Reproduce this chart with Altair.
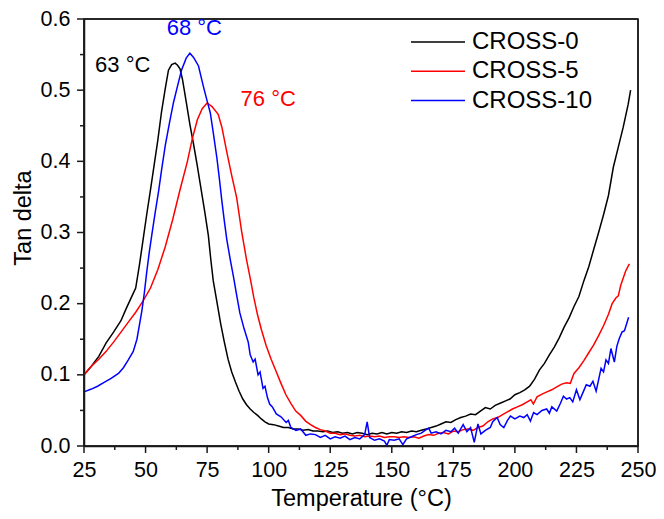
import altair as alt
import pandas as pd

SERIES = ["CROSS-0", "CROSS-5", "CROSS-10"]
COLORS = ["#000000", "#ff0000", "#0000ff"]

# CROSS-0 (black)
T0 = [25, 28, 31, 34, 37, 40, 42, 44, 46, 47.5, 49, 50.5, 52, 53.5, 55, 56.5, 58, 59.3, 60.6, 62, 63, 64, 65,
      66.5, 68, 69.5, 71, 72.5, 74, 75.5, 76.5, 77.5, 79, 80.5, 82, 83.5, 85, 86.5, 88, 89.5, 91, 92.5, 94, 95.5,
      97, 98.5, 100, 102, 104, 106, 108, 110, 112, 114, 116, 118, 120, 122, 124, 126, 128, 130, 132, 134, 136,
      138, 140, 142, 144, 146, 148, 150, 152, 154, 156, 158, 160, 162, 164, 166, 168, 170, 172, 174, 176, 178,
      180, 182, 184, 186, 188, 190, 192, 194, 196, 198, 200, 202, 204, 206, 208, 210, 212, 214, 216, 218, 220,
      222, 224, 226, 228, 230, 232, 234, 236, 238, 240, 242, 244, 246, 247]
Y0 = [.100, .112, .126, .145, .160, .176, .192, .207, .222, .254, .290, .326, .360, .395, .430, .470, .502, .528,
      .536, .538, .535, .530, .515, .484, .452, .424, .394, .362, .330, .296, .262, .232, .202, .172, .146, .122,
      .104, .090, .077, .066, .058, .052, .047, .043, .038, .034, .031, .030, .028, .026, .026, .024, .024, .022,
      .023, .021, .021, .020, .021, .019, .020, .018, .019, .017, .019, .018, .016, .018, .017, .019, .017, .019,
      .018, .020, .019, .021, .020, .022, .024, .026, .028, .031, .034, .033, .037, .040, .042, .045, .044, .049,
      .054, .052, .057, .060, .063, .066, .072, .075, .079, .084, .094, .107, .116, .128, .139, .152, .167, .180,
      .196, .210, .232, .252, .276, .300, .325, .352, .392, .420, .448, .480, .500]

# CROSS-5 (red)
T5 = [25, 28, 31, 34, 37, 40, 43, 46, 49, 52, 55, 58, 61, 64, 67, 69, 71, 73, 75, 77, 79.5, 81, 83, 85, 87, 89,
      91, 92.5, 94, 95.5, 97, 99, 101, 103, 105, 107, 109, 111, 113, 115, 117, 119, 121, 123, 125, 127, 129, 131,
      133, 135, 137, 139, 141, 143, 145, 147, 149, 151, 153, 155, 157, 159, 161, 163, 165, 167, 169, 171, 173,
      175, 177, 179, 181, 183, 185, 187, 189, 191, 193, 195, 197, 199, 201, 203, 205, 206.5, 207.5, 209, 211,
      213, 215, 217, 219, 221, 222.5, 224, 226, 228, 230, 232, 234, 236, 238, 239.5, 241, 242, 243, 244, 245,
      246.5]
Y5 = [.100, .112, .122, .133, .146, .160, .174, .188, .204, .222, .248, .280, .318, .360, .400, .432, .458, .474,
      .482, .477, .466, .448, .413, .380, .349, .302, .262, .236, .208, .184, .164, .141, .122, .105, .088, .072,
      .060, .049, .043, .035, .030, .026, .023, .021, .018, .018, .016, .017, .015, .014, .015, .013, .014, .013,
      .014, .012, .013, .013, .012, .013, .012, .013, .011, .014, .016, .015, .018, .019, .017, .021, .020, .023,
      .024, .022, .026, .028, .034, .038, .040, .044, .048, .052, .055, .058, .062, .065, .059, .069, .073, .076,
      .079, .083, .087, .089, .088, .102, .110, .120, .131, .142, .155, .169, .185, .200, .208, .211, .226, .236,
      .246, .256]

# CROSS-10 (blue)
T10 = [25, 28, 30.5, 33, 36, 39, 41, 43, 45, 46.5, 47.5, 48.5, 49.5, 50.5, 51.5, 52.6, 54, 55.3, 56.6, 58, 59.6,
       61.3, 63, 64.6, 66.5, 68, 69.5, 71.5, 73.5, 75, 76.3, 77.6, 79, 80, 81, 82, 83, 84.4, 85.7, 87, 88.3, 90,
       91.7, 92.5, 93.7, 94.5, 95.7, 96.5, 97.7, 98.5, 99.5, 100.4, 101.5, 103.1, 105, 107.1, 108, 109, 111.1,
       113, 115.1, 117, 119, 121, 123, 125, 127, 129, 131, 133, 135, 137, 139, 140, 141, 143, 145, 147, 148,
       149, 151, 153, 154.5, 156, 158, 160, 162, 163.5, 165, 166, 168, 170, 172, 174, 175.5, 177, 179, 180.5,
       182, 183.5, 185, 186.2, 188, 190, 191, 192.8, 194, 195.5, 197, 198.2, 200, 202, 203.6, 205, 206.3, 207.6,
       209, 211, 212.9, 214, 215, 217, 218.5, 219.7, 221, 222.3, 223.5, 225, 226.4, 227.5, 229, 230.5, 231.7,
       233, 235, 236, 237, 238, 239, 240.4, 241.4, 242.4, 243.5, 244.5, 246.2]
Y10 = [.076, .080, .084, .089, .095, .102, .110, .121, .133, .150, .170, .190, .215, .245, .272, .298, .330, .358,
       .390, .422, .452, .482, .506, .528, .545, .552, .546, .534, .505, .485, .468, .438, .404, .375, .344, .316,
       .290, .262, .238, .212, .187, .165, .146, .128, .118, .122, .100, .104, .081, .084, .068, .059, .055, .045,
       .041, .033, .036, .026, .022, .024, .015, .017, .016, .012, .015, .010, .013, .011, .014, .009, .012, .010,
       .016, .034, .012, .008, .010, .007, .001, .009, .008, .010, .002, .010, .013, .016, .018, .022, .025, .018,
       .020, .017, .022, .020, .025, .018, .030, .020, .026, .005, .031, .017, .022, .026, .034, .040, .030, .026,
       .036, .042, .038, .042, .040, .044, .035, .047, .044, .050, .052, .046, .055, .049, .060, .070, .066, .068,
       .062, .079, .065, .074, .086, .084, .091, .077, .109, .104, .121, .116, .137, .118, .140, .151, .160, .162,
       .181]

ANN_TEXT = ["63 °C", "68 °C", "76 °C"]
ANN_T = [29.5, 58.6, 88.6]
ANN_Y = [0.535, 0.588, 0.488]
ANN_COLORS = ["#000000", "#0000ff", "#ff0000"]

X_DOMAIN = [25, 250]
Y_DOMAIN = [0, 0.6]
X_TICKS = [25, 50, 75, 100, 125, 150, 175, 200, 225, 250]
X_MINOR = [37.5, 62.5, 87.5, 112.5, 137.5, 162.5, 187.5, 212.5, 237.5]
Y_TICKS = [0, 0.1, 0.2, 0.3, 0.4, 0.5, 0.6]
Y_MINOR = [0.05, 0.15, 0.25, 0.35, 0.45, 0.55]

W, H = 554, 427
MAJOR, MINOR = 7, 4
FRAME = "frame"
INK = "#1a1a1a"

rows = []
for name, ts, ys in zip(SERIES, [T0, T5, T10], [Y0, Y5, Y10]):
    for i, (t, y) in enumerate(zip(ts, ys)):
        rows.append({"series": name, "path": name, "T": t, "tan": y, "i": i})

# tick marks and plot frame as short paths in data units, drawn by the same line mark
x0, x1 = X_DOMAIN
y0, y1 = Y_DOMAIN
dx = (x1 - x0) / W
dy = (y1 - y0) / H
count = [0]
def seg(a, b):
    count[0] += 1
    pid = f"g{count[0]}"
    rows.append({"series": FRAME, "path": pid, "T": a[0], "tan": a[1], "i": 0})
    rows.append({"series": FRAME, "path": pid, "T": b[0], "tan": b[1], "i": 1})
for v in X_TICKS:
    seg((v, y0), (v, y0 - MAJOR * dy))
for v in X_MINOR:
    seg((v, y0), (v, y0 - MINOR * dy))
for v in Y_TICKS:
    seg((x0, v), (x0 - MAJOR * dx, v))
for v in Y_MINOR:
    seg((x0, v), (x0 - MINOR * dx, v))
seg((x0, y1), (x1, y1))
seg((x1, y0), (x1, y1))
seg((x0, y0), (x1, y0))
seg((x0, y0), (x0, y1))
df = pd.DataFrame(rows)
ann = pd.DataFrame({"text": ANN_TEXT, "T": ANN_T, "tan": ANN_Y, "col": ANN_COLORS})

FONT = "Liberation Sans"
x_scale = alt.Scale(domain=X_DOMAIN, nice=False, zero=False)
y_scale = alt.Scale(domain=Y_DOMAIN, nice=False)
color_scale = alt.Scale(domain=SERIES + [FRAME], range=COLORS + [INK])

x_axis = alt.Axis(
    orient="bottom",
    values=X_TICKS,
    format="d",
    ticks=False,
    domain=True,
    labelFlush=False,
    labelBaseline="alphabetic",
    labelPadding=30,
    title="Temperature (°C)",
    titleY=59,
    titleBaseline="alphabetic",
)
y_axis = alt.Axis(
    orient="left",
    values=Y_TICKS,
    format=".1f",
    ticks=False,
    domain=True,
    labelFlush=False,
    labelPadding=14,
    title="Tan delta",
    titleX=-54,
    titleY=198.5,
    titleBaseline="alphabetic",
)

lines = alt.Chart(df).mark_line(strokeWidth=1.5, interpolate="linear").encode(
    x=alt.X("T:Q", scale=x_scale, axis=x_axis),
    y=alt.Y("tan:Q", scale=y_scale, axis=y_axis),
    color=alt.Color(
        "series:N",
        scale=color_scale,
        legend=alt.Legend(
            values=SERIES,
            orient="none", legendX=324, legendY=11, title=None,
            symbolType="M-1,0H5", symbolSize=324, symbolStrokeWidth=1.5,
            labelFontSize=24, labelFont=FONT, labelColor="black",
            labelOffset=40, rowPadding=5.3, padding=0,
        ),
    ),
    detail="path:N",
    order="i:Q",
)

texts = alt.Chart(ann).mark_text(align="left", baseline="middle", font=FONT, fontSize=22).encode(
    x=alt.X("T:Q", scale=x_scale),
    y=alt.Y("tan:Q", scale=y_scale),
    text="text:N",
    color=alt.Color("col:N", scale=None),
)

chart = alt.layer(lines, texts).properties(
    width=W,
    height=H,
    autosize=alt.AutoSizeParams(type="none"),
    padding={"left": 76, "top": 11, "right": 18, "bottom": 65},
).configure_view(
    stroke=INK, strokeWidth=1.5
).configure_axis(
    grid=False,
    domainColor=INK, domainWidth=1.5,
    labelFont=FONT, labelFontSize=21.5, labelColor="black",
    titleFont=FONT, titleFontSize=23.5, titleFontWeight="normal", titleColor="black",
)

chart.save("out.html", embed_options={"renderer": "svg", "actions": False})
